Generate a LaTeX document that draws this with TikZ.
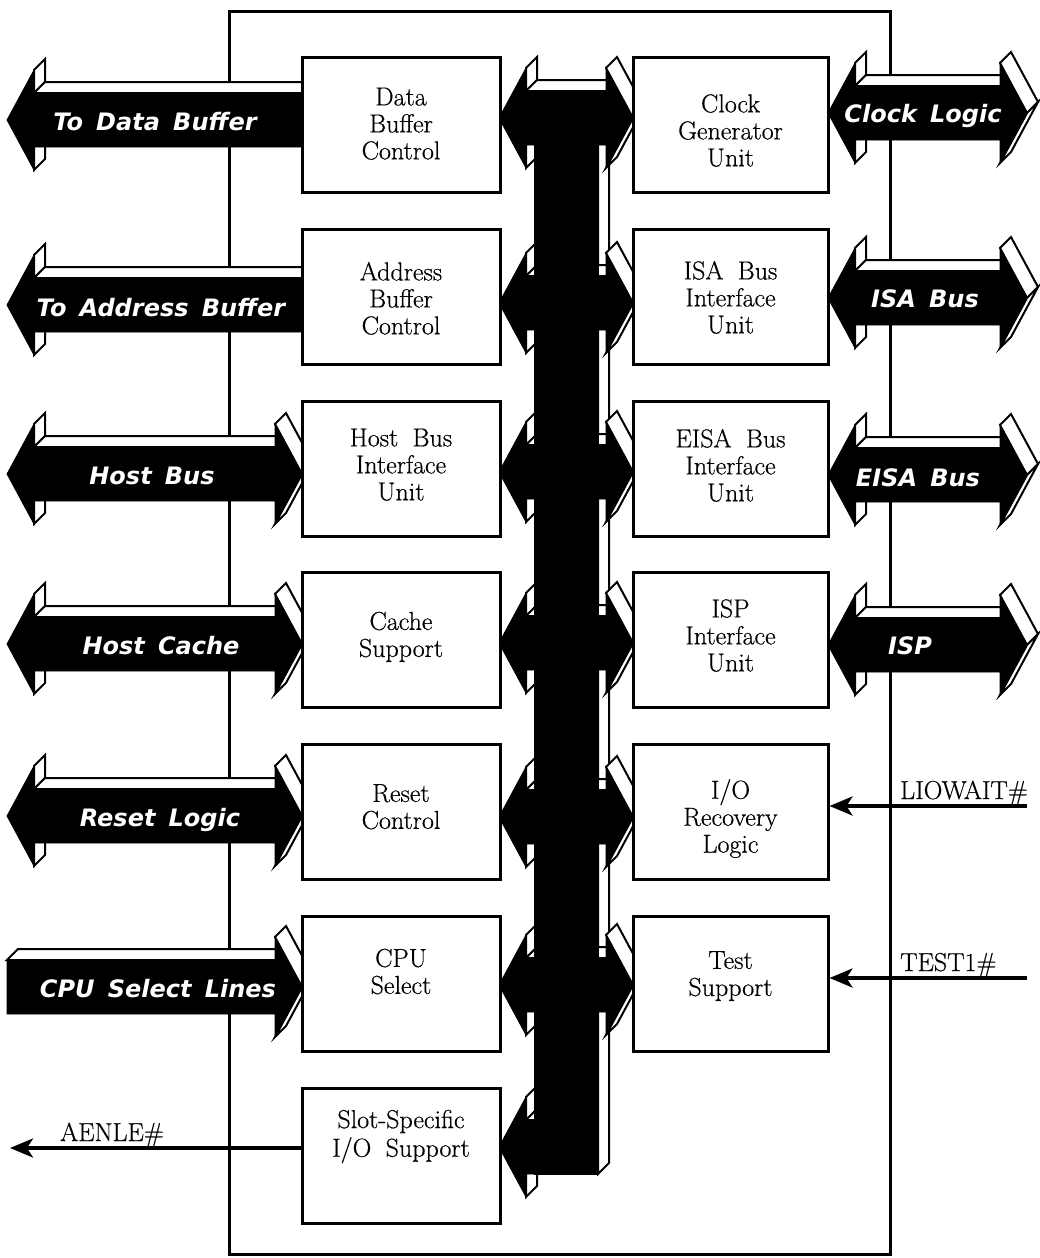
\documentclass[tikz,border=0pt]{standalone}
\usepackage{fontspec}
\newfontfamily\arrowfont{DejaVu Sans}
\newfontfamily\unitfont{Latin Modern Roman}[FakeBold=0.5]
\usetikzlibrary{arrows.meta}

% extrusion depth of the block arrows and their proportions
\def\dx{11}\def\dy{-11}
\def\ha{27}  % head length
\def\hh{50}  % head half height
\def\hs{27}  % shaft half height
\def\pass{0}

% one visible side face: edge (#1,#2)-(#3,#4) pushed back by the depth
\newcommand\fc[4]{%
  \pgfmathsetmacro\fxa{#1+\dx}\pgfmathsetmacro\fya{#2+\dy}%
  \pgfmathsetmacro\fxb{#3+\dx}\pgfmathsetmacro\fyb{#4+\dy}%
  \draw[face] (#1,#2) -- (#3,#4) -- (\fxb,\fyb) -- (\fxa,\fya) -- cycle;}

\newcommand\setrows[1]{%
  \pgfmathsetmacro\yt{#1-\hh}\pgfmathsetmacro\yb{#1+\hh}%
  \pgfmathsetmacro\st{#1-\hs}\pgfmathsetmacro\sb{#1+\hs}}

% left-pointing arrow: tip x, shaft end x, centre y
\newcommand\arrowL[3]{%
  \setrows{#3}\pgfmathsetmacro\xa{#1+\ha}%
  \ifnum\pass=0
    \fc{\xa}{\yt}{\xa}{\st}\fc{\xa}{\sb}{\xa}{\yb}\fc{\xa}{\st}{#2}{\st}
  \else
    \draw[front] (#1,#3) -- (\xa,\yt) -- (\xa,\st) -- (#2,\st) -- (#2,\sb)
      -- (\xa,\sb) -- (\xa,\yb) -- cycle;
  \fi}

% right-pointing arrow: shaft start x, tip x, centre y
\newcommand\arrowR[3]{%
  \setrows{#3}\pgfmathsetmacro\xb{#2-\ha}%
  \ifnum\pass=0
    \fc{#1}{\st}{\xb}{\st}\fc{\xb}{\yt}{#2}{#3}\fc{#2}{#3}{\xb}{\yb}
  \else
    \draw[front] (#1,\st) -- (\xb,\st) -- (\xb,\yt) -- (#2,#3) -- (\xb,\yb)
      -- (\xb,\sb) -- (#1,\sb) -- cycle;
  \fi}

% double-headed arrow: left tip x, right tip x, centre y
\newcommand\arrowLR[3]{%
  \setrows{#3}\pgfmathsetmacro\xa{#1+\ha}\pgfmathsetmacro\xb{#2-\ha}%
  \ifnum\pass=0
    \fc{\xa}{\yt}{\xa}{\st}\fc{\xa}{\sb}{\xa}{\yb}\fc{\xa}{\st}{\xb}{\st}
    \fc{\xb}{\yt}{#2}{#3}\fc{#2}{#3}{\xb}{\yb}
  \else
    \draw[front] (#1,#3) -- (\xa,\yt) -- (\xa,\st) -- (\xb,\st) -- (\xb,\yt)
      -- (#2,#3) -- (\xb,\yb) -- (\xb,\sb) -- (\xa,\sb) -- (\xa,\yb) -- cycle;
  \fi}

% internal bus: vertical bar with a branch to every unit
\newcommand\internalbus{%
  \ifnum\pass=0 \fc{598}{91}{598}{1174}\else
    \draw[front] (534,91) rectangle (598,1174);\fi
  \arrowLR{499}{633}{118}\arrowLR{499}{633}{303}\arrowLR{499}{633}{472}
  \arrowLR{499}{633}{643}\arrowLR{499}{633}{817}\arrowLR{499}{633}{985}
  \arrowL{499}{535}{1147}}

\newcommand\externalbuses{%
  \arrowL{7}{302}{120}\arrowL{7}{302}{305}
  \arrowLR{7}{302}{474}\arrowLR{7}{302}{644}\arrowLR{7}{302}{816}
  \arrowR{7}{302}{987}
  \arrowLR{828}{1027}{113}\arrowLR{828}{1027}{298}
  \arrowLR{828}{1027}{475}\arrowLR{828}{1027}{645}}

\newcommand\wsp{\hspace{0.55em}}

\begin{document}
\begin{tikzpicture}[x=1pt,y=-1pt,
  face/.style={fill=white,draw=black,line width=2pt,line join=miter},
  front/.style={fill=black,draw=black,line width=0.8pt,line join=miter},
  unit/.style={draw=black,fill=white,line width=3pt,inner sep=0pt},
  lunit/.style={unit,minimum width=198pt,minimum height=135pt},
  runit/.style={unit,minimum width=195pt,minimum height=135pt},
  unittext/.style={align=center,font=\unitfont\fontsize{26}{27}\selectfont,inner sep=0pt},
  buslabel/.style={text=white,font=\arrowfont\bfseries\itshape\fontsize{24}{26}\selectfont,anchor=base,inner sep=0pt},
  signame/.style={font=\unitfont\fontsize{26}{28}\selectfont,anchor=base west,inner sep=0pt},
  sig/.style={line width=3.5pt,-{Stealth[length=23pt,width=19pt,inset=6pt]}}
]
\useasboundingbox (0,0) rectangle (1040,1258);

% chip outline
\node[draw=black,line width=3pt,minimum width=661pt,minimum height=1243pt,inner sep=0pt]
  (chip) at (559.5,632.5) {};

% block arrows: side faces first, then the black fronts
\def\pass{0}\internalbus\externalbuses
\def\pass{1}\internalbus\externalbuses

% functional units, left column
\node[lunit] (dbc)  at (401,124.5)  {};
\node[lunit] (abc)  at (401,296.5)  {};
\node[lunit] (hbi)  at (401,468.5)  {};
\node[lunit] (cache) at (401,639.5) {};
\node[lunit] (rst)  at (401,811.5)  {};
\node[lunit] (cpu)  at (401,983.5)  {};
\node[lunit] (slot) at (401,1155.5) {};
% right column
\node[runit] (clk)  at (730.5,124.5) {};
\node[runit] (isa)  at (730.5,296.5) {};
\node[runit] (eisa) at (730.5,468.5) {};
\node[runit] (isp)  at (730.5,639.5) {};
\node[runit] (io)   at (730.5,811.5) {};
\node[runit] (test) at (730.5,983.5) {};

% unit names
\node[unittext] (tdbc) at (401,127)  {Data\strut\\Buffer\strut\\Control\strut};
\node[unittext] (tabc) at (401,302)  {Address\strut\\Buffer\strut\\Control\strut};
\node[unittext] (thbi) at (401,468)  {Host\wsp Bus\strut\\Interface\strut\\Unit\strut};
\node[unittext] (tcache) at (401,638) {Cache\strut\\Support\strut};
\node[unittext] (trst) at (401,810)  {Reset\strut\\Control\strut};
\node[unittext] (tcpu) at (401,975)  {CPU\strut\\Select\strut};
\node[unittext] (tslot) at (401,1137) {Slot-Specific\strut\\I/O\wsp Support\strut};
\node[unittext] (tclk) at (730.5,134) {Clock\strut\\Generator\strut\\Unit\strut};
\node[unittext] (tisa) at (730.5,301) {ISA\wsp Bus\strut\\Interface\strut\\Unit\strut};
\node[unittext] (teisa) at (730.5,469) {EISA\wsp Bus\strut\\Interface\strut\\Unit\strut};
\node[unittext] (tisp) at (730.5,639) {ISP\strut\\Interface\strut\\Unit\strut};
\node[unittext] (tio) at (730.5,820) {I/O\strut\\Recovery\strut\\Logic\strut};
\node[unittext] (ttest) at (730.5,977) {Test\strut\\Support\strut};

% bus names
\node[buslabel] (ldb)  at (155,130) {To\wsp Data\wsp Buffer};
\node[buslabel] (lab)  at (161,316) {To\wsp Address\wsp Buffer};
\node[buslabel] (lhb)  at (152,484) {Host\wsp Bus};
\node[buslabel] (lhc)  at (161,654) {Host\wsp Cache};
\node[buslabel] (lrl)  at (160,826) {Reset\wsp Logic};
\node[buslabel] (lcs)  at (158,997) {CPU\wsp Select\wsp Lines};
\node[buslabel] (lcl)  at (923,122) {Clock\wsp Logic};
\node[buslabel] (lisa) at (925,307) {ISA\wsp Bus};
\node[buslabel] (leisa) at (918,486) {EISA\wsp Bus};
\node[buslabel] (lisp) at (910,654) {ISP};

% single signals
\coordinate (liowaitIn) at (1027,806);
\coordinate (testIn) at (1027,978);
\coordinate (aenleOut) at (10,1148);
\draw[sig] (liowaitIn) -- (liowaitIn -| io.east);
\draw[sig] (testIn) -- (testIn -| test.east);
\draw[sig] (aenleOut -| slot.west) -- (aenleOut);
\node[signame] (sliowait) at (900,799) {LIOWAIT\#};
\node[signame] (stest) at (900,971) {TEST1\#};
\node[signame] (saenle) at (60,1141) {AENLE\#};
\end{tikzpicture}
\end{document}
